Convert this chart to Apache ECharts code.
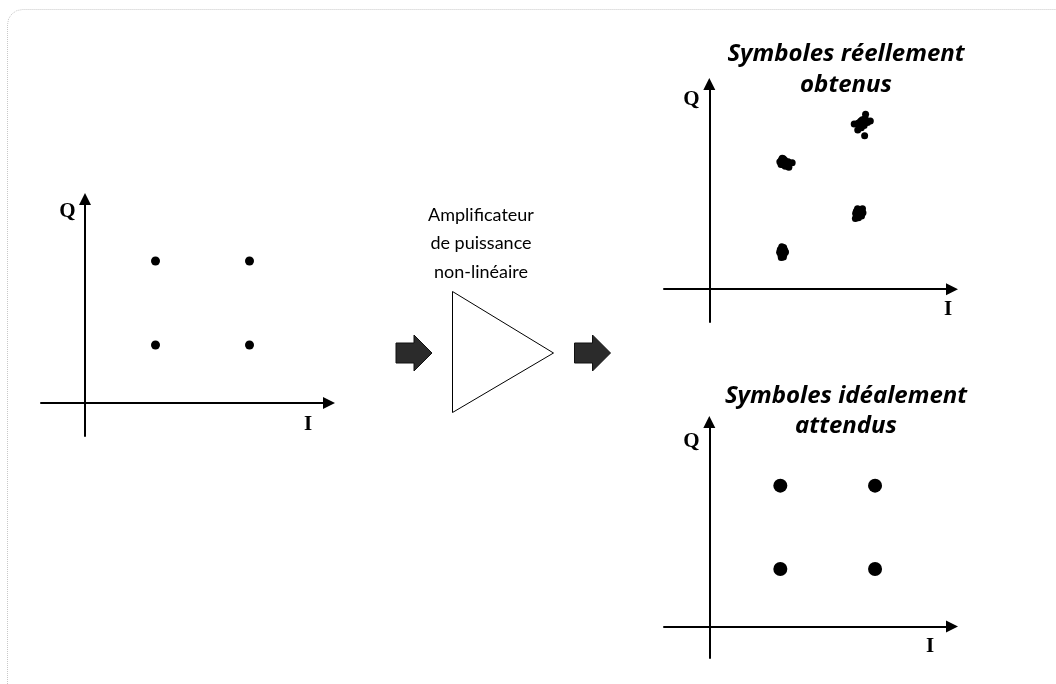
<!DOCTYPE html>
<html>
<head>
<meta charset="utf-8">
<script src="https://cdn.jsdelivr.net/npm/echarts@6/dist/echarts.min.js"></script>
<style>
html,body{margin:0;padding:0;background:#fff;}
#chart{width:1056px;height:684px;}
</style>
</head>
<body>
<div id="chart"></div>
<script>
// ---- Data (I/Q constellation values) ----
const idealI = [3, 7];
const idealQ = [2.9, 7.1];
const inputSymbols = [[idealI[0], idealQ[1]], [idealI[1], idealQ[1]], [idealI[0], idealQ[0]], [idealI[1], idealQ[0]]];
const expectedSymbols = [[idealI[0], idealQ[1]], [idealI[1], idealQ[1]], [idealI[0], idealQ[0]], [idealI[1], idealQ[0]]];

// received (distorted) symbol clusters
const clusterLowLeft = [[3.09,1.87],[3.00,2.00],[3.18,1.98],[3.02,1.74],[3.16,1.76],[2.97,1.87],[3.22,1.88],[3.06,2.14],[3.14,2.10],[3.04,1.60],[3.13,1.62],[3.10,2.02],[3.08,1.72]];
const clusterUpLeft = [[3.05,6.52],[3.13,6.58],[2.98,6.42],[3.10,6.40],[3.19,6.50],[3.03,6.28],[3.14,6.26],[3.24,6.36],[3.33,6.42],[3.50,6.37],[3.36,6.14],[3.21,6.20],[3.08,6.60]];
const clusterLowRight = [[6.32,3.80],[6.21,3.93],[6.41,3.96],[6.24,3.67],[6.43,3.69],[6.17,3.56],[6.33,4.00],[6.49,3.85],[6.18,3.81],[6.30,3.60],[6.47,4.05],[6.38,3.72],[6.26,4.06]];
const clusterUpRight = [[6.43,8.30],[6.37,8.42],[6.51,8.40],[6.46,8.54],[6.34,8.22],[6.54,8.25],[6.42,8.14],[6.58,8.62],[6.28,8.36],[6.48,8.34],[6.40,8.48],[6.60,8.82],[6.12,8.32],[6.80,8.48],[6.56,7.73],[6.27,8.02],[6.68,8.40]];

// ---- Texts ----
const axisNameI = 'I';
const axisNameQ = 'Q';
const amplifierLabel = 'Amplificateur\nde puissance\nnon-linéaire';
const titleReceived = 'Symboles réellement\nobtenus';
const titleExpected = 'Symboles idéalement\nattendus';

const chart = echarts.init(document.getElementById('chart'), null, {renderer: 'canvas'});

function axisLine() {
  return {
    show: true,
    onZero: true,
    symbol: ['none', 'triangle'],
    symbolSize: [12, 12],
    lineStyle: {color: '#000', width: 2}
  };
}
function mkAxis(gi, min, max) {
  return {type: 'value', gridIndex: gi, min: min, max: max,
    axisLine: axisLine(), axisTick: {show: false}, axisLabel: {show: false}, splitLine: {show: false}};
}
function txt(text, x, y, font, lineHeight) {
  const style = {text: text, x: x, y: y, font: font, fill: '#000',
    align: 'center', verticalAlign: 'middle', textAlign: 'center', textVerticalAlign: 'middle'};
  if (lineHeight) style.lineHeight = lineHeight;
  return {type: 'text', silent: true, style: style};
}
const serifFont = 'bold 21px "Liberation Serif", "DejaVu Serif", serif';
const titleFont = 'italic bold 24px "Open Sans", Lato, sans-serif';
const labelFont = '18px Lato, "Open Sans", sans-serif';

function dotStyle() { return {color: '#000', opacity: 1}; }
function clusterSeries(data) {
  return {type: 'scatter', xAxisIndex: 1, yAxisIndex: 1, data: data,
    symbol: 'circle', symbolSize: 7, itemStyle: dotStyle(), silent: true};
}

const option = {
  backgroundColor: '#fff',
  animation: false,
  grid: [
    {left: 41, top: 199, width: 288, height: 237},
    {left: 664, top: 84, width: 288, height: 238},
    {left: 664, top: 422, width: 288, height: 236}
  ],
  xAxis: [mkAxis(0, -1.872, 10.383), mkAxis(1, -1.913, 10.25), mkAxis(2, -1.913, 10.25)],
  yAxis: [mkAxis(0, -1.65, 10.2), mkAxis(1, -1.65, 10.34), mkAxis(2, -1.589, 10.31)],
  series: [
    {type: 'scatter', xAxisIndex: 0, yAxisIndex: 0, data: inputSymbols,
      symbol: 'circle', symbolSize: 9, itemStyle: dotStyle(), silent: true},
    clusterSeries(clusterLowLeft),
    clusterSeries(clusterUpLeft),
    clusterSeries(clusterLowRight),
    clusterSeries(clusterUpRight),
    {type: 'scatter', xAxisIndex: 2, yAxisIndex: 2, data: expectedSymbols,
      symbol: 'circle', symbolSize: 14, itemStyle: dotStyle(), silent: true}
  ],
  graphic: [
    // frame (dotted rounded border)
    {type: 'polyline', silent: true,
      shape: {points: [[7.5,684],[7.5,24.5],[8.6,18.8],[11.9,13.9],[16.8,10.6],[22.5,9.5],[1056,9.5]]},
      style: {stroke: '#c8c8c8', lineWidth: 1, lineDash: [1, 1], fill: null}},
    // amplifier triangle
    {type: 'polygon', silent: true, shape: {points: [[452.5, 291.5], [452.5, 412.5], [553.5, 353]]},
      style: {fill: '#fff', stroke: '#000', lineWidth: 1}},
    // block arrows
    {type: 'polygon', silent: true, shape: {points: [[396,343],[414,343],[414,335],[432,353],[414,371],[414,363],[396,363]]},
      style: {fill: '#2b2b2b', stroke: '#111', lineWidth: 1}},
    {type: 'polygon', silent: true, shape: {points: [[574.5,343],[592.5,343],[592.5,335],[610.5,353],[592.5,371],[592.5,363],[574.5,363]]},
      style: {fill: '#2b2b2b', stroke: '#111', lineWidth: 1}},
    // amplifier label
    txt(amplifierLabel, 481, 243.5, labelFont, 28.5),
    // titles
    txt(titleReceived, 846, 70, titleFont, 31),
    txt(titleExpected, 846, 411, titleFont, 30),
    // axis names
    txt(axisNameQ, 67.5, 212, serifFont),
    txt(axisNameI, 308, 425, serifFont),
    txt(axisNameQ, 691.5, 100, serifFont),
    txt(axisNameI, 948, 310, serifFont),
    txt(axisNameQ, 691.5, 442, serifFont),
    txt(axisNameI, 930, 647, serifFont)
  ]
};
chart.setOption(option);
</script>
</body>
</html>
